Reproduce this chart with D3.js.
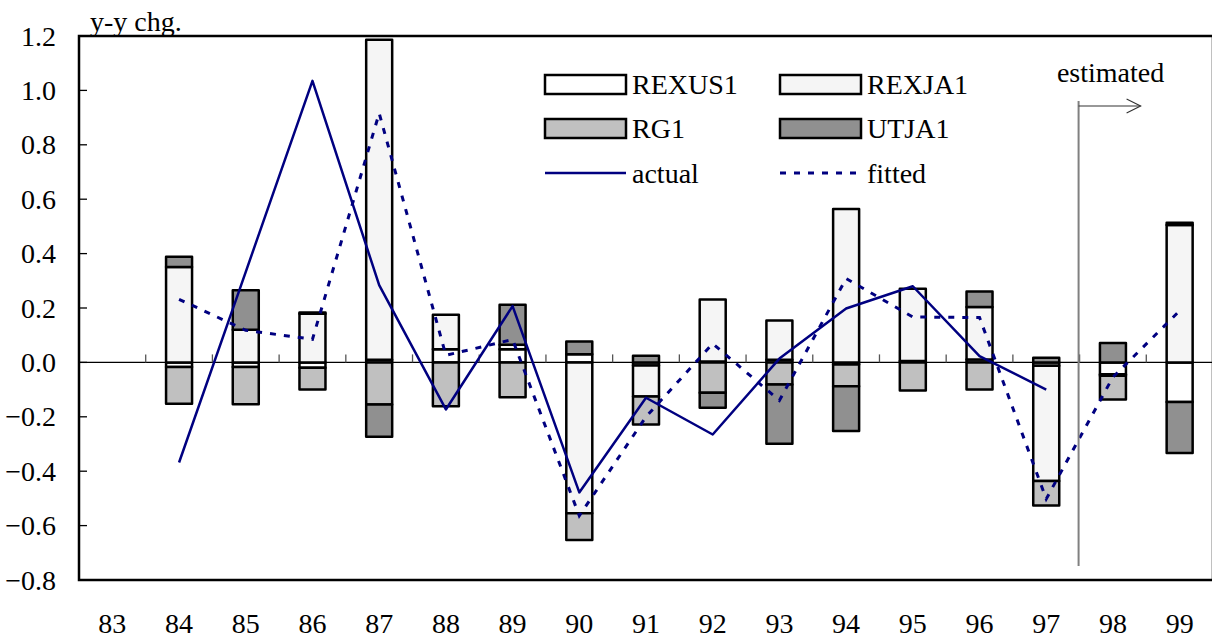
<!DOCTYPE html>
<html>
<head>
<meta charset="utf-8">
<script src="https://cdn.jsdelivr.net/npm/d3@7"></script>
<style>
  html, body { margin: 0; padding: 0; background: #fff; }
  svg { display: block; }
  svg text { font-family: "Liberation Serif", "DejaVu Serif", Times, serif; }
</style>
</head>
<body>
<svg id="chart" width="1212" height="638"></svg>
<script>
// Year-on-year change decomposition, 1983-1999
const years = ["83","84","85","86","87","88","89","90","91","92","93","94","95","96","97","98","99"];

const REXUS1 = [0, -0.017, -0.017, -0.020, 0.010, 0.048, 0.048, 0.030, -0.011, 0.003, 0.010, -0.008, 0.005, 0.011, -0.012, -0.044, -0.146];
const REXJA1 = [0, 0.351, 0.120, 0.179, 1.176, 0.127, 0.017, -0.555, -0.114, 0.228, 0.144, 0.564, 0.266, 0.193, -0.424, -0.005, 0.505];
const RG1    = [0, -0.135, -0.137, -0.080, -0.155, -0.161, -0.128, -0.098, -0.103, -0.112, -0.081, -0.080, -0.103, -0.100, -0.090, -0.087, 0.008];
const UTJA1  = [0, 0.037, 0.145, 0.004, -0.118, 0, 0.147, 0.047, 0.024, -0.055, -0.218, -0.164, 0, 0.057, 0.017, 0.071, -0.187];

const actual = [null, -0.368, 0.333, 1.035, 0.284, -0.173, 0.207, -0.478, -0.130, -0.265, 0.014, 0.198, 0.280, 0.023, -0.100, null, null];
const fitted = [null, 0.232, 0.118, 0.085, 0.916, 0.026, 0.084, -0.564, -0.200, 0.069, -0.140, 0.308, 0.167, 0.165, -0.502, -0.054, 0.190];

const yTicks = [1.2, 1.0, 0.8, 0.6, 0.4, 0.2, 0.0, -0.2, -0.4, -0.6, -0.8];
const seriesNames = ["REXUS1", "REXJA1", "RG1", "UTJA1"];
const seriesValues = { REXUS1, REXJA1, RG1, UTJA1 };
const fills = { REXUS1: "#ffffff", REXJA1: "#f5f5f5", RG1: "#c0c0c0", UTJA1: "#909090" };
const estimatedFrom = "98";

const svg = d3.select("#chart");
const plotLeft = 79, plotRight = 1213, plotTop = 36, plotBottom = 580;
const FONT = 28;
const SERIF = "'Liberation Serif', 'DejaVu Serif', Times, serif";
const navy = "#000080";

const x = d3.scaleBand().domain(years).range([plotLeft, plotRight]).padding(0);
const y = d3.scaleLinear().domain([-0.8, 1.2]).range([plotBottom, plotTop]);
const barW = 26;

// table for stacking
const table = years.map((yr, i) => {
  const row = { year: yr };
  seriesNames.forEach(k => row[k] = seriesValues[k][i]);
  return row;
});
const stacked = d3.stack().keys(seriesNames).offset(d3.stackOffsetDiverging)(table);

// zero line with category boundary ticks
svg.append("line")
  .attr("x1", plotLeft).attr("x2", plotRight)
  .attr("y1", y(0)).attr("y2", y(0))
  .attr("stroke", "#000").attr("stroke-width", 1.2);

svg.append("g").selectAll("line")
  .data(years.slice(1))
  .join("line")
  .attr("x1", d => x(d)).attr("x2", d => x(d))
  .attr("y1", y(0)).attr("y2", y(0) - 8)
  .attr("stroke", "#555").attr("stroke-width", 1.3);

// stacked bars
const bars = svg.append("g");
stacked.forEach(s => {
  bars.append("g")
    .selectAll("rect")
    .data(s.filter(d => d[1] !== d[0]))
    .join("rect")
    .attr("x", d => x(d.data.year) + x.bandwidth() / 2 - barW / 2)
    .attr("width", barW)
    .attr("y", d => y(Math.max(d[0], d[1])))
    .attr("height", d => Math.abs(y(d[0]) - y(d[1])))
    .attr("fill", fills[s.key])
    .attr("stroke", "#000")
    .attr("stroke-width", 2.5)
    .attr("stroke-linejoin", "round");
});

// actual and fitted lines
const cx = d => x(d) + x.bandwidth() / 2;
const lineGen = d3.line()
  .defined(d => d.v !== null)
  .x(d => cx(d.year))
  .y(d => y(d.v));

svg.append("path")
  .datum(years.map((yr, i) => ({ year: yr, v: fitted[i] })))
  .attr("d", lineGen)
  .attr("fill", "none")
  .attr("stroke", navy)
  .attr("stroke-width", 3)
  .attr("stroke-dasharray", "6,8");

svg.append("path")
  .datum(years.map((yr, i) => ({ year: yr, v: actual[i] })))
  .attr("d", lineGen)
  .attr("fill", "none")
  .attr("stroke", navy)
  .attr("stroke-width", 2.5)
  .attr("stroke-linejoin", "round");

// estimated marker
const ex = x(estimatedFrom) - 1;
svg.append("line")
  .attr("x1", ex).attr("x2", ex).attr("y1", 101).attr("y2", 566)
  .attr("stroke", "#808080").attr("stroke-width", 2);
svg.append("line")
  .attr("x1", ex).attr("x2", ex + 62).attr("y1", 106).attr("y2", 106)
  .attr("stroke", "#333").attr("stroke-width", 1.2);
svg.append("path")
  .attr("d", `M${ex + 48},99 L${ex + 62},106 L${ex + 48},113`)
  .attr("fill", "none").attr("stroke", "#333").attr("stroke-width", 1.2);
svg.append("text")
  .attr("x", ex + 32).attr("y", 82)
  .attr("text-anchor", "middle")
  .attr("font-family", SERIF)
  .attr("font-size", FONT)
  .text("estimated");

// frame
svg.append("rect")
  .attr("x", plotLeft).attr("y", plotTop)
  .attr("width", plotRight - plotLeft).attr("height", plotBottom - plotTop)
  .attr("fill", "none").attr("stroke", "#000").attr("stroke-width", 2.5);

// y axis
const yAxis = svg.append("g");
yAxis.selectAll("line")
  .data(yTicks)
  .join("line")
  .attr("x1", plotLeft).attr("x2", plotLeft + 8)
  .attr("y1", d => y(d)).attr("y2", d => y(d))
  .attr("stroke", "#000").attr("stroke-width", 1.3);
yAxis.selectAll("text")
  .data(yTicks)
  .join("text")
  .attr("x", 56)
  .attr("y", d => y(d) + 9.5)
  .attr("text-anchor", "end")
  .attr("font-family", SERIF)
  .attr("font-size", FONT)
  .text(d => d3.format(".1f")(d));

// x labels
svg.append("g").selectAll("text")
  .data(years)
  .join("text")
  .attr("x", d => cx(d))
  .attr("y", 633)
  .attr("text-anchor", "middle")
  .attr("font-family", SERIF)
  .attr("font-size", FONT)
  .text(d => d);

// axis unit
svg.append("text")
  .attr("x", 90).attr("y", 31)
  .attr("font-family", SERIF)
  .attr("font-size", FONT)
  .text("y-y chg.");

// legend
const legend = svg.append("g");
const legItems = [
  { name: "REXUS1", type: "rect", col: 0, row: 0 },
  { name: "REXJA1", type: "rect", col: 1, row: 0 },
  { name: "RG1", type: "rect", col: 0, row: 1 },
  { name: "UTJA1", type: "rect", col: 1, row: 1 },
  { name: "actual", type: "solid", col: 0, row: 2 },
  { name: "fitted", type: "dash", col: 1, row: 2 }
];
const colX = [545, 780];
const rowY = [84.5, 128.5, 173];
legItems.forEach(it => {
  const lx = colX[it.col], ly = rowY[it.row];
  if (it.type === "rect") {
    legend.append("rect")
      .attr("x", lx).attr("y", ly - 9.5)
      .attr("width", 81).attr("height", 19)
      .attr("fill", fills[it.name])
      .attr("stroke", "#000").attr("stroke-width", 2.5);
  } else {
    legend.append("line")
      .attr("x1", lx).attr("x2", lx + 81)
      .attr("y1", ly).attr("y2", ly)
      .attr("stroke", navy)
      .attr("stroke-width", it.type === "dash" ? 3 : 2.5)
      .attr("stroke-dasharray", it.type === "dash" ? "6,8" : null);
  }
  legend.append("text")
    .attr("x", lx + 87).attr("y", ly + 9.5)
    .attr("font-family", SERIF)
    .attr("font-size", FONT)
    .text(it.name);
});
</script>
</body>
</html>
